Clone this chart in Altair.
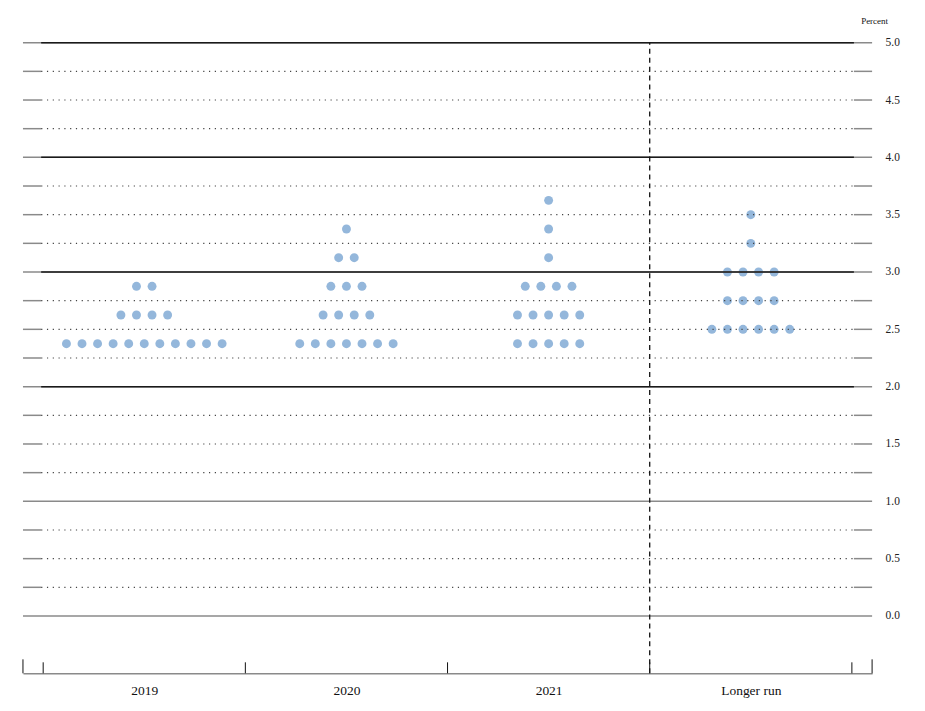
import json
import altair as alt
import pandas as pd

# ---------------- data ----------------
years = ["2019", "2020", "2021", "Longer run"]

levels_2019 = [2.375, 2.625, 2.875]
counts_2019 = [11, 4, 2]

levels_2020 = [2.375, 2.625, 2.875, 3.125, 3.375]
counts_2020 = [7, 4, 3, 2, 1]

levels_2021 = [2.375, 2.625, 2.875, 3.125, 3.375, 3.625]
counts_2021 = [5, 5, 4, 1, 1, 1]

levels_lr = [2.5, 2.75, 3.0, 3.25, 3.5]
counts_lr = [6, 4, 4, 1, 1]

y_grid = [i * 0.25 for i in range(21)]          # 0.00 ... 5.00
y_labels = [i * 0.5 for i in range(11)]         # 0.0 ... 5.0
dark_majors = [2.0, 3.0, 4.0, 5.0]
light_majors = [0.0, 1.0]
bottom_ticks = [-0.5, 0.5, 1.5, 2.5, 3.5]
outer_ticks = [-0.6, 3.6]
divider = 2.5

# ---------------- layout constants ----------------
W, H = 851, 632
XDOM = [-0.6, 3.6]
YDOM = [-0.5, 5.0]
INNER = [-0.51, 3.51]
DOT_STEP = 0.077
SERIF = "Liberation Serif"

# ---------------- tables ----------------
rows = []
for i, (lv, ct) in enumerate([(levels_2019, counts_2019), (levels_2020, counts_2020),
                              (levels_2021, counts_2021), (levels_lr, counts_lr)]):
    for level, n in zip(lv, ct):
        for j in range(n):
            rows.append({"x": i + (j - (n - 1) / 2) * DOT_STEP, "y": level, "year": years[i]})
dots = pd.DataFrame(rows)

full_gray = pd.DataFrame([{"x": XDOM[0], "x2": XDOM[1], "y": v} for v in dark_majors + light_majors])
minor_vals = [v for v in y_grid if v not in dark_majors + light_majors]
edge_gray = pd.DataFrame(
    [{"x": XDOM[0], "x2": INNER[0], "y": v} for v in minor_vals]
    + [{"x": INNER[1], "x2": XDOM[1], "y": v} for v in minor_vals]
)
dark_rules = pd.DataFrame([{"x": INNER[0], "x2": INNER[1], "y": v} for v in dark_majors])
dotted_rules = pd.DataFrame([{"x": INNER[0], "x2": INNER[1], "y": v} for v in minor_vals])
divider_df = pd.DataFrame([{"x": divider, "y": YDOM[0], "y2": YDOM[1]}])
ticks_in = pd.DataFrame({"x": bottom_ticks})
ticks_out = pd.DataFrame({"x": outer_ticks})

label_expr = "%s[datum.value]" % json.dumps(years)

xscale = alt.Scale(domain=XDOM, nice=False, zero=False)
yscale = alt.Scale(domain=YDOM, nice=False, zero=False)

xaxis = alt.Axis(values=[0, 1, 2, 3], labelExpr=label_expr, ticks=False, grid=False,
                 domain=True, domainColor="#8a8a8a", domainWidth=1.5,
                 labelFont=SERIF, labelFontSize=13.5, labelColor="#111",
                 labelPadding=10, title=None)
yaxis = alt.Axis(orient="right", values=y_labels, format=".1f", ticks=False, grid=False,
                 domain=False, labelFont=SERIF, labelFontSize=11.5, labelColor="#222",
                 labelPadding=13, title="Percent", titleAngle=0, titleFont=SERIF,
                 titleFontSize=9, titleFontWeight="normal", titleColor="#111",
                 titleAlign="center", titleBaseline="middle", titleX=2, titleY=-22)


def X(field="x"):
    return alt.X(f"{field}:Q", scale=xscale, axis=xaxis)


def Y(field="y"):
    return alt.Y(f"{field}:Q", scale=yscale, axis=yaxis)


points = alt.Chart(dots).mark_circle(size=80, color="#94b7db", opacity=1).encode(x=X(), y=Y())

gray_full = alt.Chart(full_gray).mark_rule(color="#8a8a8a", strokeWidth=1.5).encode(
    x=X(), x2="x2:Q", y=Y())
gray_edges = alt.Chart(edge_gray).mark_rule(color="#8a8a8a", strokeWidth=1.5).encode(
    x=X(), x2="x2:Q", y=Y())
dark = alt.Chart(dark_rules).mark_rule(color="#1a1a1a", strokeWidth=1.5).encode(
    x=X(), x2="x2:Q", y=Y())
dotted = alt.Chart(dotted_rules).mark_rule(color="#444", strokeWidth=1.2,
                                           strokeDash=[1.2, 4.6]).encode(
    x=X(), x2="x2:Q", y=Y())
vline = alt.Chart(divider_df).mark_rule(color="#111", strokeWidth=1.3, strokeDash=[5, 4]).encode(
    x=X(), y=Y(), y2="y2:Q")
tin = alt.Chart(ticks_in).mark_rule(color="#111", strokeWidth=1).encode(
    x=X(), y=alt.value(H), y2=alt.value(H - 11))
tout = alt.Chart(ticks_out).mark_rule(color="#111", strokeWidth=1).encode(
    x=X(), y=alt.value(H), y2=alt.value(H - 14))

chart = alt.layer(points, gray_full, gray_edges, dark, dotted, vline, tin, tout).properties(
    width=W, height=H,
    autosize=alt.AutoSizeParams(type="none"),
    padding={"left": 15, "top": 34, "right": 45, "bottom": 30},
    background="white",
).configure_view(stroke=None)

chart.save("out.html", embed_options={"renderer": "svg", "actions": False})
